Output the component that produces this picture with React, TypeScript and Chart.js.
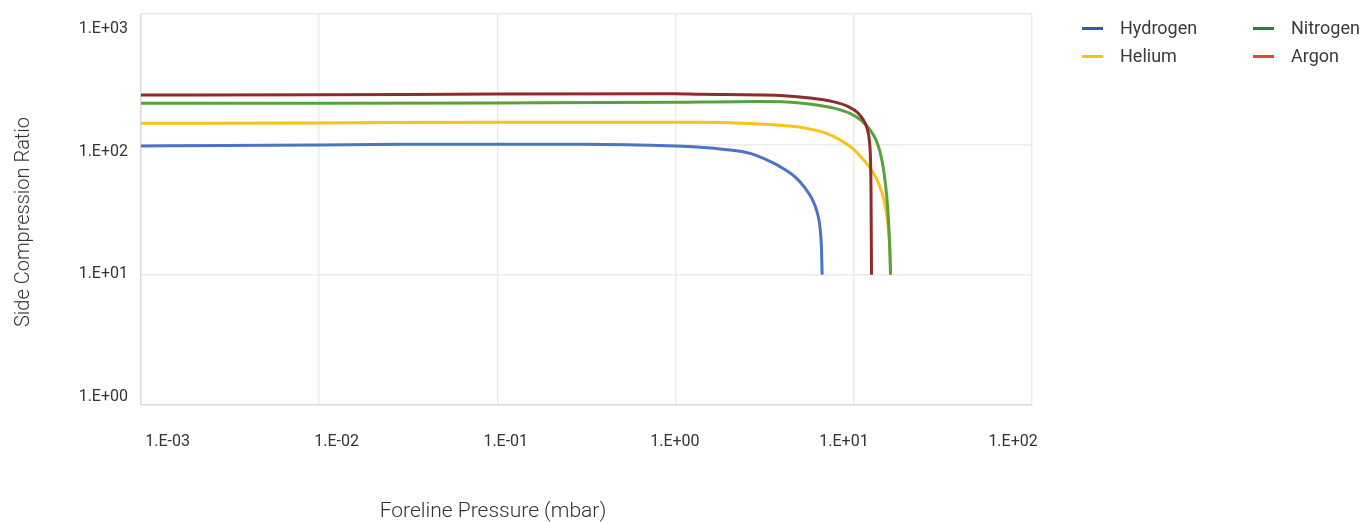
import React, { useEffect, useRef } from "react";
import { Chart, registerables } from "chart.js";

Chart.register(...registerables);

// ---- data ----
const seriesNames = ["Hydrogen", "Helium", "Nitrogen", "Argon"];

const hydrogenX = [0.001, 0.003, 0.01, 0.03, 0.1, 0.3, 1, 1.37, 1.89, 2.62, 3.39, 4.01, 4.68, 5.32, 5.83, 6.22, 6.46, 6.59, 6.64];
const hydrogenY = [97, 98, 99, 100, 100, 100, 97, 95, 91.4, 85.2, 73.9, 65.3, 56.2, 46.3, 38.1, 30.3, 23.2, 15.5, 10];

const heliumX = [0.001, 0.01, 0.1, 1, 1.37, 2.62, 4.01, 5.32, 6.89, 8.37, 9.77, 11.1, 12.33, 13.5, 14.4, 15.16, 15.66, 15.96, 16.1];
const heliumY = [145, 146, 148, 148, 148, 144.6, 139.6, 133.6, 122.3, 108.1, 93.8, 78.6, 65.9, 53.3, 42.4, 31.4, 22.0, 15.5, 10];

const nitrogenX = [0.001, 0.01, 0.1, 1, 1.37, 2.98, 4.99, 6.46, 7.84, 9.52, 11.1, 12.33, 13.32, 14.03, 14.58, 15.07, 15.45, 15.76, 15.96, 16.07];
const nitrogenY = [207, 207, 208, 210, 211, 212.7, 207.9, 198.9, 188.6, 172.6, 151.3, 129.0, 108.1, 87.4, 68.3, 48.8, 34.3, 22.0, 14.2, 10];

const argonX = [0.001, 0.01, 0.1, 1, 1.37, 3.85, 5.68, 7.64, 9.27, 10.56, 11.4, 11.94, 12.25, 12.41, 12.49, 12.53, 12.57];
const argonY = [239, 240, 243, 244, 242, 237.3, 227.0, 212.7, 195.4, 174.1, 151.3, 129.0, 104.3, 75.9, 44.7, 22.0, 10];

const xTickLabels = ["1.E-03", "1.E-02", "1.E-01", "1.E+00", "1.E+01", "1.E+02"];
const yTickLabels = ["1.E+00", "1.E+01", "1.E+02", "1.E+03"];
const xDecades = [0.001, 0.01, 0.1, 1, 10, 100];
const yDecades = [1, 10, 100, 1000];

const lineColors = ["#4a74c4", "#fbc21c", "#55a33a", "#8e2c2c"];
const legendColors = ["#2f5da6", "#f7c600", "#17874a", "#e8413a"];

const tickFont = { family: "Roboto", size: 16, weight: "normal" as const };

const zeroPad = (s: any) => {
  s.paddingTop = 0;
  s.paddingBottom = 0;
  s.paddingLeft = 0;
  s.paddingRight = 0;
};

export default function App() {
  const canvasRef = useRef<HTMLCanvasElement | null>(null);

  useEffect(() => {
    document.body.style.margin = "0";
    const canvas = canvasRef.current;
    if (!canvas) return;
    const xs = [hydrogenX, heliumX, nitrogenX, argonX];
    const ys = [hydrogenY, heliumY, nitrogenY, argonY];
    const datasets = seriesNames.map((name, i) => ({
      label: name,
      data: xs[i].map((x, j) => ({ x, y: ys[i][j] })),
      borderColor: lineColors[i],
      backgroundColor: lineColors[i],
      borderWidth: 3,
      pointRadius: 0,
      fill: false,
      cubicInterpolationMode: "monotone" as const,
      xAxisID: "x",
      yAxisID: "y",
      order: 4 - i,
    }));

    const chart = new Chart(canvas, {
      type: "line",
      data: { datasets },
      options: {
        animation: false,
        responsive: false,
        layout: { padding: { top: 14, right: 331, left: 0, bottom: 0 } },
        plugins: { legend: { display: false }, tooltip: { enabled: false } },
        scales: {
          x: {
            type: "logarithmic",
            position: "bottom",
            min: 0.001,
            max: 100,
            afterBuildTicks: (s: any) => {
              s.ticks = xDecades.map((v) => ({ value: v, major: true }));
            },
            afterFit: (s: any) => {
              s.height = 0;
              zeroPad(s);
            },
            ticks: { display: false },
            grid: {
              color: (ctx: any) => (ctx.index === 0 ? "#d9d9d9" : "#ebebeb"),
              lineWidth: 1.5,
              drawTicks: false,
            },
            border: { display: false },
          },
          xLabels: {
            type: "linear",
            position: "bottom",
            min: -0.157,
            max: 5.112,
            afterBuildTicks: (s: any) => {
              s.ticks = xTickLabels.map((_, i) => ({ value: i }));
            },
            afterFit: (s: any) => {
              s.height = 118;
              zeroPad(s);
            },
            ticks: {
              callback: (v: any) => xTickLabels[Math.round(Number(v))] ?? "",
              font: tickFont,
              color: "#333333",
              padding: 27,
              autoSkip: false,
              maxRotation: 0,
            },
            grid: { display: false, drawTicks: false },
            border: { display: false },
          },
          y: {
            type: "logarithmic",
            position: "left",
            min: 1,
            max: 1000,
            afterBuildTicks: (s: any) => {
              s.ticks = yDecades.map((v) => ({ value: v, major: true }));
            },
            afterFit: (s: any) => {
              s.width = 0;
              zeroPad(s);
            },
            ticks: { display: false },
            grid: {
              color: (ctx: any) => (ctx.index === 0 ? "#d9d9d9" : "#ebebeb"),
              lineWidth: 1.5,
              drawTicks: false,
            },
            border: { display: false },
          },
          yLabels: {
            type: "linear",
            position: "left",
            min: -0.065,
            max: 3.121,
            afterBuildTicks: (s: any) => {
              s.ticks = yTickLabels.map((_, i) => ({ value: i }));
            },
            afterFit: (s: any) => {
              s.width = 141;
              zeroPad(s);
            },
            ticks: {
              callback: (v: any) => yTickLabels[Math.round(Number(v))] ?? "",
              font: tickFont,
              color: "#333333",
              padding: 13,
              autoSkip: false,
            },
            grid: { display: false, drawTicks: false },
            border: { display: false },
          },
        },
      },
    });
    return () => chart.destroy();
  }, []);

  const legendItem = (i: number, left: number, top: number) => (
    <div
      key={seriesNames[i]}
      style={{ position: "absolute", left, top, height: 22, display: "flex", alignItems: "center" }}
    >
      <div style={{ width: 21, height: 3, background: legendColors[i], marginRight: 17 }} />
      <span style={{ fontFamily: "Roboto", fontSize: 18, color: "#3a3a3a", lineHeight: "22px" }}>
        {seriesNames[i]}
      </span>
    </div>
  );

  return (
    <div style={{ position: "relative", width: 1363, height: 523, background: "#ffffff", overflow: "hidden" }}>
      <canvas ref={canvasRef} width={1363} height={523} style={{ width: 1363, height: 523, display: "block" }} />
      {legendItem(0, 1082, 17)}
      {legendItem(1, 1082, 45)}
      {legendItem(2, 1253, 17)}
      {legendItem(3, 1253, 45)}
      <div
        style={{
          position: "absolute",
          left: 493,
          top: 510,
          transform: "translate(-50%, -50%)",
          fontFamily: "Roboto",
          fontWeight: 300,
          fontSize: 21,
          color: "#333333",
          whiteSpace: "nowrap",
        }}
      >
        Foreline Pressure (mbar)
      </div>
      <div
        style={{
          position: "absolute",
          left: 22,
          top: 222,
          transform: "translate(-50%, -50%) rotate(-90deg)",
          fontFamily: "Roboto",
          fontWeight: 300,
          fontSize: 20,
          color: "#333333",
          whiteSpace: "nowrap",
        }}
      >
        Side Compression Ratio
      </div>
    </div>
  );
}
